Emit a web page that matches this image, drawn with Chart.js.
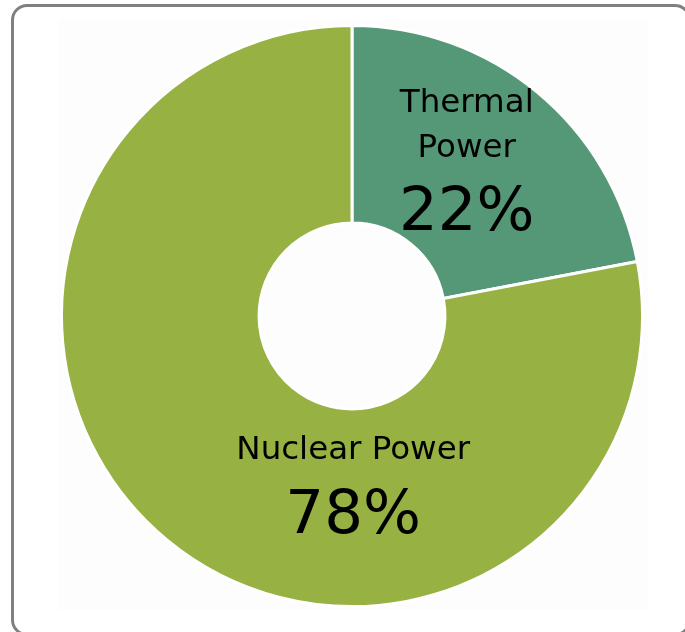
<!DOCTYPE html>
<html>
<head>
<meta charset="utf-8">
<script src="https://cdn.jsdelivr.net/npm/chart.js@4/dist/chart.umd.min.js"></script>
<style>
  html, body { margin: 0; padding: 0; background: #ffffff; }
  #wrap { position: relative; width: 685px; height: 632px; overflow: hidden; }
  #frame {
    position: absolute; left: 11px; top: 4px; width: 680px; height: 632px;
    box-sizing: border-box; border: 3px solid #808080; border-radius: 16px;
  }
  #plotbg { position: absolute; left: 58px; top: 20px; width: 590px; height: 590px; background: #fdfdfd; }
  #c { position: absolute; left: 0; top: 0; }
</style>
</head>
<body>
<div id="wrap">
  <div id="frame"></div>
  <div id="plotbg"></div>
  <canvas id="c" width="685" height="632"></canvas>
</div>
<script>
// Electricity generation mix
const categories = ['Thermal Power', 'Nuclear Power'];
const shares = [22, 78];
const sliceColors = ['#559877', '#97b142'];
// Label lines for each slice (the name may wrap onto several lines)
const nameLines = [['Thermal', 'Power'], ['Nuclear Power']];

// Text placement relative to the doughnut centre, in units of the outer radius
const labelLayout = [
  { dx: 0.395, names: [-0.701, -0.546], pct: -0.296 },
  { dx: 0.004, names: [0.491], pct: 0.746 }
];

const sliceLabels = {
  id: 'sliceLabels',
  afterDatasetsDraw(chart) {
    const ctx = chart.ctx;
    const meta = chart.getDatasetMeta(0);
    const data = chart.data.datasets[0].data;
    const total = data.reduce((a, b) => a + b, 0);
    ctx.save();
    ctx.fillStyle = '#000000';
    ctx.textAlign = 'center';
    ctx.textBaseline = 'alphabetic';
    meta.data.forEach((arc, i) => {
      const R = arc.outerRadius;
      const lay = labelLayout[i];
      const x = arc.x + lay.dx * R;
      ctx.font = '32.5px "DejaVu Sans", sans-serif';
      nameLines[i].forEach((t, k) => ctx.fillText(t, x, arc.y + lay.names[k] * R));
      ctx.font = '61px "DejaVu Sans", sans-serif';
      ctx.fillText(Math.round(data[i] / total * 100) + '%', x, arc.y + lay.pct * R);
    });
    ctx.restore();
  }
};

new Chart(document.getElementById('c'), {
  type: 'doughnut',
  data: {
    labels: categories,
    datasets: [{
      data: shares,
      backgroundColor: sliceColors,
      borderColor: '#ffffff',
      borderWidth: 3
    }]
  },
  options: {
    responsive: false,
    animation: false,
    cutout: '32%',
    layout: { padding: { left: 60, top: 23, right: 41, bottom: 23 } },
    plugins: {
      legend: { display: false },
      tooltip: { enabled: false }
    }
  },
  plugins: [sliceLabels]
});
</script>
</body>
</html>
